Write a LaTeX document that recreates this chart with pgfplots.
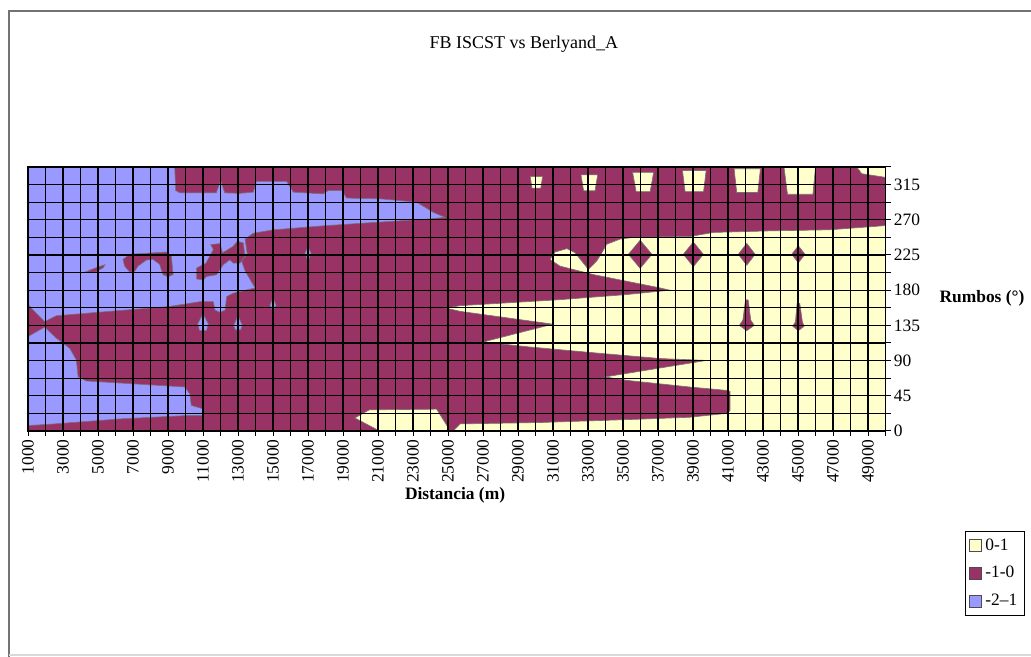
\documentclass[border=0pt]{standalone}
\usepackage{pgfplots}
\pgfplotsset{compat=1.18}
\usepackage{fontspec}
\setmainfont{Liberation Serif}
\definecolor{plum}{HTML}{993366}
\definecolor{peri}{HTML}{9999FF}
\definecolor{ivory}{HTML}{FFFFCC}
\pgfplotsset{reg/.style={draw=black!55, line width=0.3pt, forget plot}}
\begin{document}
\begin{tikzpicture}
\useasboundingbox (0,0) rectangle (515.5pt,328.5pt);
\draw[black!55, line width=0.9pt] (4.5pt,0) -- (4.5pt,323pt) -- (515.5pt,323pt);
\draw[black!15, line width=0.6pt] (4.5pt,1pt) -- (515.5pt,1pt);
\begin{axis}[
  at={(14pt,113pt)}, anchor=south west,
  width=428.75pt, height=132pt, scale only axis,
  xmin=1000, xmax=50000, ymin=0, ymax=337.5,
  axis on top,
  scaled x ticks=false, scaled y ticks=false,
  /pgf/number format/assume math mode=true,
  /pgf/number format/1000 sep={},
  xtick={1000,3000,...,49000},
  minor xtick={2000,4000,...,50000},
  ytick={0,45,...,315},
  minor ytick={22.5,67.5,...,337.5},
  grid=both,
  major grid style={black, line width=0.65pt},
  minor grid style={black, line width=0.65pt},
  tick align=outside,
  major tick length=2.5pt, minor tick length=2.5pt,
  every tick/.style={black, line width=0.5pt},
  xtick pos=lower, ytick pos=right, yticklabel pos=right,
  axis line style={black, line width=0.6pt},
  tick label style={font=\fontsize{8.7}{9}\selectfont},
  xticklabel style={rotate=90, anchor=east, inner sep=1.5pt},
  yticklabel style={anchor=west, inner sep=1.5pt},
  every axis title shift=0pt,
  title={FB ISCST vs Berlyand\_A},
  title style={at={(0.5784,1.466)}, anchor=center, font=\fontsize{9}{10}\selectfont},
  xlabel={Distancia (m)},
  xlabel style={at={(0.498,-0.2424)}, anchor=center, font=\fontsize{8.7}{9}\selectfont\bfseries},
  ylabel={Rumbos (°)},
  ylabel style={at={(1.1125,0.5038)}, anchor=center, rotate=-90, font=\fontsize{8.7}{9}\selectfont\bfseries},
  legend style={at={(1.0927,-0.3788)}, anchor=north west, draw=black, line width=0.6pt,
    font=\fontsize{8.7}{9}\selectfont, inner sep=1.5pt, row sep=2.5pt},
  legend cell align=left,
  legend image code/.code={\draw[#1, draw=black!70, line width=0.4pt] (0pt,-3pt) rectangle (6pt,3pt);},
]
% background (-1-0)
\addplot[fill=plum, draw=none, forget plot] coordinates {(1000,0) (50000,0) (50000,337.5) (1000,337.5)} -- cycle;
% upper blue region (-2--1)
\addplot[reg, fill=peri] coordinates {
(1000,337.5) (9380,337.5) (9440,307.35) (9670,304.4) (11760,304.4) (12010,320.4) (12240,304.4)
(13100,303.75) (13870,305.3) (14060,319.05) (15780,319.05) (16160,305.3) (17870,303.1) (18160,307.35)
(18920,307.35) (19210,297.7) (21110,296.8) (23210,292.5) (24160,279.45) (24820,273.15) (23780,270.9)
(20730,266.6) (17870,262.35) (15010,257.2) (13870,252.9) (13400,245.25) (13530,225.9) (13200,217.35)
(13400,204.75) (13970,182.9) (12730,176.2) (12350,171.9) (12260,154.6) (11970,151.65) (11690,154.6)
(11590,165.4) (10830,165.4) (9100,159.3) (6240,154.1) (2620,147.4) (1950,139.95) (1000,161.55)} -- cycle;
% lower blue region
\addplot[reg, fill=peri] coordinates {
(1000,120.6) (1950,132.75) (2620,118.6) (3380,105.75) (3760,90.7) (3860,69.1) (4330,63.9) (9950,56.25)
(10240,47.7) (10330,32.6) (11000,28.35) (11040,19.8) (10050,19.8) (6240,15.5) (2430,9.0) (1000,7.0)} -- cycle;
% purple islands in blue
\addplot[reg, fill=plum] coordinates {(4300,203.6) (4900,208.8) (5400,212.6) (5300,208.8) (4800,202.5)} -- cycle;
\addplot[reg, fill=plum] coordinates {
(6430,219.4) (6810,225.9) (7760,227.2) (8900,228.8) (9190,223.65) (9290,200.0) (9000,197.1) (8710,200.0)
(8520,213.1) (8140,219.4) (7760,218.5) (7290,210.8) (7100,204.3) (6810,203.2) (6520,210.8)} -- cycle;
\addplot[reg, fill=plum] coordinates {
(10640,194.2) (10640,208.35) (11170,214.65) (11590,232.0) (11440,238.3) (11970,239.6) (12120,227.7)
(12730,236.25) (12960,242.55) (13300,240.5) (13400,223.4) (13110,214.65) (12730,214.65) (12540,218.9)
(12160,212.6) (11780,199.8) (11210,197.55) (11020,193.3)} -- cycle;
% blue drops in purple
\addplot[reg, fill=peri] coordinates {(11000,149.6) (11300,137.25) (11200,128.25) (10800,128.25) (10700,137.25)} -- cycle;
\addplot[reg, fill=peri] coordinates {(13000,147.4) (13250,135) (13150,129.4) (12850,129.4) (12750,135)} -- cycle;
\addplot[reg, fill=peri] coordinates {(17000,235.1) (17180,227.25) (17000,217.1) (16820,227.25)} -- cycle;
\addplot[reg, fill=peri] coordinates {(15000,169.9) (15180,160.9) (15000,153) (14820,160.9)} -- cycle;
% main yellow region (0-1)
\addplot[reg, fill=ivory] coordinates {
(50000,0) (25300,0) (25690,9.0) (30250,10.8) (35970,15.1) (38830,17.55) (40920,22.5) (41120,26.1)
(41120,50.6) (40900,52.0) (38830,56.25) (35210,64.8) (33980,69.1) (39780,90.2) (37120,92.7)
(33300,100.1) (29500,107.8) (27020,113.85) (31000,136.6) (25690,153.0) (24920,157.05) (25690,160.2)
(27590,162.7) (31400,167.85) (35210,174.4) (37690,180.0) (37120,182.9) (35210,191.5) (33310,200.0)
(31400,210.8) (30830,219.4) (31120,228.8) (31790,233.1) (32260,227.9) (33020,206.55) (33500,217.35)
(33790,227.9) (34070,238.7) (34830,245.25) (35590,247.5) (38830,248.6) (40160,253.8) (43400,255.8)
(46830,257.2) (49880,262.35) (50000,263.25)} -- cycle;
\addplot[reg, fill=ivory] coordinates {(19680,16.65) (20500,27.0) (24350,27.9) (25000,4.5) (25050,0) (21100,0)} -- cycle;
% yellow cells in the upper band
\addplot[reg, fill=ivory] coordinates {(29700,325.1) (30400,325.1) (30300,310.5) (29800,310.5)} -- cycle;
\addplot[reg, fill=ivory] coordinates {(32600,327.4) (33550,327.4) (33400,307.1) (32750,307.1)} -- cycle;
\addplot[reg, fill=ivory] coordinates {(35550,330.75) (36750,330.75) (36550,306.0) (35750,306.0)} -- cycle;
\addplot[reg, fill=ivory] coordinates {(38400,333.0) (39750,333.0) (39600,306.0) (38550,306.0)} -- cycle;
\addplot[reg, fill=ivory] coordinates {(41350,335.25) (42850,335.25) (42700,304.9) (41500,304.9)} -- cycle;
\addplot[reg, fill=ivory] coordinates {(44200,337.5) (46000,337.5) (45850,302.6) (44400,302.6)} -- cycle;
\addplot[reg, fill=ivory] coordinates {(48360,337.5) (50000,337.5) (50000,324) (49880,324.7) (48640,328.95)} -- cycle;
% purple diamonds and drops in yellow
\addplot[reg, fill=plum] coordinates {(35310,225.9) (35980,243.9) (36650,225.9) (35980,207.9)} -- cycle;
\addplot[reg, fill=plum] coordinates {(38450,225.9) (39020,241.65) (39590,225.9) (39020,210.15)} -- cycle;
\addplot[reg, fill=plum] coordinates {(41590,225.9) (42070,239.85) (42550,225.9) (42070,211.95)} -- cycle;
\addplot[reg, fill=plum] coordinates {(44640,225.9) (45020,236.7) (45400,225.9) (45020,215.1)} -- cycle;
\addplot[reg, fill=plum] coordinates {(42000,167.6) (42150,167.6) (42300,141.75) (42500,135) (42070,128.25) (41650,135) (41850,141.75)} -- cycle;
\addplot[reg, fill=plum] coordinates {(44950,163.1) (45100,163.1) (45250,139.5) (45350,133.9) (45020,128.25) (44700,133.9) (44850,139.5)} -- cycle;
% legend
\addlegendimage{fill=ivory}
\addlegendentry{0-1}
\addlegendimage{fill=plum}
\addlegendentry{-1-0}
\addlegendimage{fill=peri}
\addlegendentry{-2--1}
\end{axis}
\end{tikzpicture}
\end{document}
